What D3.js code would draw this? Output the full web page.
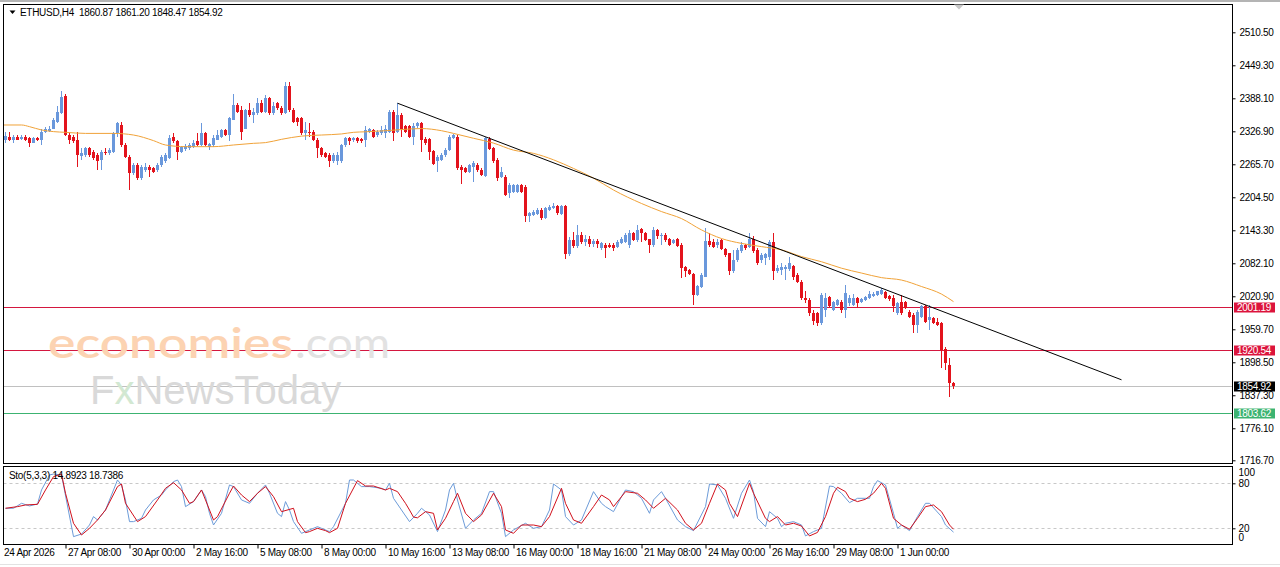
<!DOCTYPE html>
<html><head><meta charset="utf-8">
<script src="https://cdnjs.cloudflare.com/ajax/libs/d3/7.8.5/d3.min.js"></script>
<style>
html,body{margin:0;padding:0;background:#fff;}
svg{display:block;font-family:"Liberation Sans",Arial,sans-serif;}
</style></head><body>
<svg id="c" width="1280" height="567"></svg>
<script>
const symbol = "ETHUSD,H4";
const lastQuote = ["1860.87","1861.20","1848.47","1854.92"];

const opens = [2311,2317,2311,2317,2312,2317,2314,2306,2314,2310,
2326,2328,2332,2345,2360,2392,2320,2317,2311,2282,
2283,2295,2289,2283,2274,2289,2286,2289,2323,2339,
2302,2280,2249,2265,2240,2255,2261,2258,2255,2265,
2271,2277,2317,2308,2289,2294,2295,2298,2308,2302,
2323,2298,2302,2311,2317,2329,2320,2348,2376,2366,
2332,2366,2357,2360,2380,2363,2388,2360,2379,2370,
2360,2410,2366,2351,2351,2323,2326,2326,2311,2295,
2286,2283,2271,2271,2271,2302,2314,2311,2314,2312,
2311,2326,2329,2320,2323,2324,2326,2363,2326,2357,
2336,2336,2317,2336,2342,2312,2312,2291,2271,2274,
2283,2292,2314,2317,2260,2258,2252,2261,2264,2255,
2244,2312,2295,2274,2242,2243,2212,2215,2215,2227,
2224,2169,2172,2174,2181,2166,2181,2184,2188,2174,
2188,2100,2125,2115,2135,2122,2128,2118,2124,
2110,2116,2116,2116,2113,2120,2122,2116,2138,2125,2145,
2138,2127,2116,2144,2132,2135,2127,2119,2127,2116,
2076,2069,2062,2023,2039,2057,2124,2122,2116,2125,
2108,2101,2067,2088,2104,2116,2113,2128,2107,2088,
2091,2093,2122,2068,2070,2071,2071,2077,2060,2048,
2017,2014,1990,1989,1972,1996,2019,1996,2005,2011,1996,2008,
2005,2017,2011,2014,2017,2021,2023,2026,2028,2021,
2017,1989,2011,2011,1992,1986,1968,1983,2002,1977,
1980,1974,1972,1923,1894,1860.87];

const highs = [2326,2326,2320,2320,2320,2320,2317,2317,2317,2331,
2334,2336,2351,2373,2402,2397,2323,2320,2326,2295,
2298,2298,2292,2286,2292,2295,2295,2326,2345,2345,
2305,2283,2268,2268,2265,2268,2265,2261,2268,2283,
2286,2320,2323,2311,2300,2303,2306,2310,2324,2342,
2326,2306,2320,2329,2332,2332,2354,2396,2379,2373,
2368,2379,2370,2388,2385,2394,2391,2382,2382,2373,
2419,2419,2370,2354,2354,2345,2342,2329,2314,2298,
2289,2286,2286,2289,2304,2317,2317,2317,2317,2314,
2336,2333,2332,2329,2336,2339,2366,2366,2379,2360,
2339,2339,2342,2345,2344,2317,2314,2293,2283,2286,
2295,2320,2322,2320,2264,2261,2267,2271,2268,2258,
2317,2317,2298,2277,2261,2246,2231,2230,2230,2230,
2227,2178,2181,2184,2184,2187,2190,2193,2190,2190,
2190,2130,2140,2153,2140,2135,2132,2128,2128,
2122,2119,2119,2119,2125,2130,2138,2144,2140,2153,2147,
2140,2128,2150,2145,2138,2138,2129,2128,2129,2119,
2077,2071,2064,2042,2064,2147,2138,2128,2127,2128,
2110,2102,2107,2110,2122,2118,2138,2132,2110,2101,
2102,2125,2138,2079,2082,2079,2094,2079,2064,2051,
2030,2017,1995,1992,2027,2027,2021,2013,2016,2014,2042,2023,
2026,2020,2017,2022,2030,2028,2031,2036,2031,2023,
2023,2011,2023,2013,1995,1989,1996,2005,2004,2005,
1983,1980,1974,1926,1906,1861.20];

const lows = [2306,2308,2306,2310,2310,2308,2297,2305,2308,2302,
2323,2326,2331,2343,2359,2318,2303,2305,2261,2274,
2280,2280,2274,2255,2255,2283,2283,2286,2317,2298,
2277,2218,2246,2237,2237,2252,2243,2249,2252,2261,
2268,2275,2305,2274,2286,2291,2292,2295,2300,2300,
2300,2292,2298,2310,2314,2318,2308,2347,2360,2311,
2331,2354,2342,2357,2360,2360,2357,2357,2366,2357,
2359,2363,2342,2336,2320,2311,2317,2308,2277,2280,
2277,2261,2268,2264,2268,2298,2302,2307,2305,2305,
2298,2324,2314,2317,2320,2314,2323,2308,2323,2317,
2323,2314,2302,2333,2289,2302,2274,2264,2252,2271,
2280,2290,2312,2255,2230,2250,2249,2233,2252,2244,
2243,2292,2268,2234,2240,2206,2203,2212,2212,2212,
2159,2159,2170,2172,2163,2164,2179,2182,2172,2172,
2090,2095,2110,2110,2118,2115,2112,2112,2110,
2107,2091,2110,2104,2110,2118,2119,2110,2123,2122,2122,
2123,2101,2113,2128,2116,2122,2114,2117,2112,2054,
2057,2060,2005,2022,2036,2056,2113,2110,2110,2107,
2094,2060,2065,2085,2101,2107,2110,2101,2079,2082,
2079,2088,2051,2064,2060,2051,2067,2051,2045,2014,
2008,1985,1968,1966,1968,1983,2000,1993,2002,1989,1980,2002,
2002,1999,2008,2012,2015,2019,2021,2024,2015,2013,
1992,1987,1986,1997,1981,1952,1953,1980,1972,1958,
1969,1966,1887,1884,1835,1848.47];

const closes = [2318,2311,2316,2311,2317,2310,2306,2314,2310,2326,
2331,2332,2348,2363,2391,2320,2311,2308,2283,2286,
2295,2283,2277,2271,2289,2286,2292,2323,2342,2302,
2280,2249,2265,2240,2261,2261,2255,2252,2265,2280,
2283,2314,2308,2289,2297,2300,2302,2306,2302,2323,
2302,2303,2314,2320,2329,2320,2351,2376,2363,2326,
2366,2357,2363,2379,2363,2388,2360,2373,2370,2360,
2410,2366,2345,2345,2323,2329,2323,2311,2295,2283,
2280,2271,2283,2283,2302,2314,2308,2314,2308,2308,
2329,2331,2317,2326,2329,2332,2363,2323,2357,2332,
2326,2317,2336,2342,2311,2305,2289,2266,2280,2283,
2292,2317,2320,2258,2255,2252,2264,2268,2255,2246,
2314,2294,2271,2240,2252,2209,2227,2227,2227,2215,
2169,2175,2178,2181,2166,2184,2187,2188,2175,2188,
2100,2125,2115,2135,2122,2128,2118,2124,2118,
2119,2110,2113,2110,2122,2127,2135,2138,2125,2144,2138,
2125,2116,2144,2132,2135,2125,2116,2125,2114,2073,
2067,2062,2023,2040,2060,2124,2116,2113,2122,2108,
2098,2067,2088,2107,2116,2110,2128,2104,2082,2098,
2099,2122,2067,2073,2076,2076,2082,2057,2048,2017,
2014,1990,1975,1972,2023,2017,2002,2011,2014,1996,2027,2017,
2017,2008,2015,2020,2026,2026,2030,2033,2017,2015,
2002,2009,1989,1999,1983,1968,1992,2002,1974,1983,
1971,1968,1921,1897,1860,1854.92];

const maIdx = [-1,4,6,9,12,15,20,27,32,37,40,45,52,57,62,65,69,74,79,84,87,90,95,100,104,109,112,117,122,127,132,137,142,147,152,159,164,169,174,179,184,189,194,199,204,209,214,219,224,229,234,237];
const maVal = [2338.6,2338.6,2335.5,2329.4,2326.3,2325,2323,2323,2320,2309.6,2301.5,2298.4,2298.4,2301.5,2304.6,2305.9,2312,2318,2320,2322,2325,2326,2328,2330.6,2332,2328,2323,2314,2305,2292,2286,2274,2258,2240,2218,2193,2178,2165,2144,2128,2119,2113,2107,2094.5,2085,2073,2064,2055.5,2051,2039,2025,2011];

const trendIdx = [98, 279];
const trendVal = [2379, 1866];

const levelValues = [2001.19, 1920.54, 1854.92, 1803.62];
const levelColors = ["#d4173f", "#d4173f", "#c0c0c0", "#3cb371"];
const levelBoxColors = ["#dc143c", "#dc143c", "#000000", "#3cb371"];

const priceTicks = [2510.50, 2449.30, 2388.10, 2326.90, 2265.70, 2204.50, 2143.30, 2082.10, 2020.90, 1959.70, 1898.50, 1837.30, 1776.10, 1716.70];

const firstTimeLabel = "24 Apr 2026";
const timeLabels = ["27 Apr 08:00","30 Apr 00:00","2 May 16:00","5 May 08:00","8 May 00:00","10 May 16:00","13 May 08:00","16 May 00:00","18 May 16:00","21 May 08:00","24 May 00:00","26 May 16:00","29 May 08:00","1 Jun 00:00"];
const timeLabelIdx = [15,31,47,63,79,95,111,127,143,159,175,191,207,223];

const stoMainIdx = [0,2,4,6,8,9,11,12,14,17,19,21,22,23,25,28,29,30,31,32,34,35,37,39,40,42,43,44,45,47,49,50,51,52,54,56,57,59,61,63,65,66,68,69,70,71,72,74,76,78,79,81,82,85,86,87,89,91,94,95,96,97,99,101,103,104,106,108,110,111,112,113,115,117,119,121,122,124,125,127,130,132,134,136,137,139,140,142,144,147,149,150,152,154,155,157,159,161,162,164,165,168,170,172,175,176,178,180,182,184,186,187,188,190,191,193,194,195,197,199,200,202,204,206,207,209,211,213,216,217,218,220,222,223,224,226,228,230,231,234,235,237];
const stoMainVal = [46.7,46.7,53.3,49.8,52.4,71.1,91.1,92.4,91.1,8.9,12.4,24.4,35.6,31.1,44.4,84.4,77.8,57.8,28.9,28.9,33.3,44.4,57.8,64.4,71.1,82.2,84.4,75.6,48.9,55.6,71.1,62.2,40,24.4,40,77.8,75.6,57.8,53.3,66.7,77.8,66.7,40,35.6,55.6,44.4,28.9,13.3,17.8,22.2,20,15.6,22.2,53.3,84.4,84.4,75.6,75.6,73.3,71.1,80,60,44.4,28.9,40,46.7,37.8,15.6,44.4,71.1,80,57.8,20,31.1,40,68.9,68.9,40,8.9,17.8,26.7,20,22.2,44.4,79.1,71.1,35.6,24.4,31.1,68.9,53.3,48.9,42.2,62.2,71.1,68.9,60,40,57.8,68.9,60,31.1,22.2,16.9,48.9,79.1,77.8,60,33.3,66.7,84.4,68.9,33.3,22.2,42.2,33.3,22.2,26.7,28.9,24.4,9.8,15.6,20,76.4,75.6,66.7,54.2,60,60,75.6,83.6,77.8,40,20,24.4,16.9,35.6,53.3,53.3,35.6,24.4,14.8923];
const stoSigIdx = [0,3,5,8,10,12,14,15,17,19,21,23,25,28,29,30,33,35,38,40,42,44,46,47,49,50,52,53,56,57,59,61,63,65,67,69,72,73,75,76,78,80,81,83,85,88,90,92,95,96,98,100,101,102,103,105,107,108,110,112,113,115,117,119,122,124,125,127,129,132,134,136,139,140,142,144,147,149,151,152,155,158,160,162,165,168,170,172,174,176,178,180,181,183,186,187,190,191,193,195,197,199,201,203,205,207,208,210,211,213,215,217,219,220,222,224,226,228,230,232,234,236,237];
const stoSigVal = [46.7,48.9,51.1,52,71.1,88.9,92.4,66.7,26.7,11.1,20,31.1,44.4,75.6,79.1,53.3,28.9,35.6,57.8,73.3,80.9,71.1,53.3,55.6,71.1,57.8,31.1,35.6,66.7,76.4,64.4,55.6,66.7,75.6,62.2,42.2,46.7,28.9,14.2,15.6,20,16.9,14.2,20,53.3,83.6,76.4,76.4,71.1,73.3,68.9,53.3,44.4,35,34,42.2,40,17.8,33.3,55.6,66.7,40,28.9,37.8,66.7,48.9,17.8,13.3,24.4,24.4,22.2,35.6,73.3,53.3,31.1,26.7,48.9,64.4,57.8,48.9,68.9,66.7,57.8,46.7,60,44.4,26.7,17.8,26.7,53.3,79.1,71.1,53.3,35.6,80,66.7,33.3,28.9,35.6,24.4,26.7,23,9.8,14.5,35.6,66.7,74.7,68.9,60,55.6,58.7,66.7,80,73.3,33.3,24.4,18.7,33.3,48.9,51.1,42.2,24.4,18.7386];
const stoTicks = [100, 80, 20, 0];
const stoLabel = "Sto(5,3,3) 14.8923 18.7386";

// ---------- layout ----------
const L = 3.5, R = 1232.5, MT = 4.5, MB = 463.5, ST = 466.5, SB = 544.5;
const BULL = "#6a98dc", BEAR = "#e3131c";
const FONT = '"Liberation Sans", Arial, sans-serif';

const svg = d3.select("#c");
const x = d3.scaleLinear().domain([0, opens.length - 1]).range([5.5, 5.5 + 4 * (opens.length - 1)]);
const y = d3.scaleLinear().domain([1711.7, 2563]).range([463, 4]);
const ys = d3.scaleLinear().domain([0, 100]).range([543.3, 468.3]);

svg.append("rect").attr("width", 1280).attr("height", 567).attr("fill", "#fff");
svg.append("rect").attr("x", 0).attr("y", 0).attr("width", 1280).attr("height", 2).attr("fill", "#b4b4b4");
svg.append("line").attr("x1", 0).attr("x2", 1280).attr("y1", 564.5).attr("y2", 564.5).attr("stroke", "#e2e2e2");

const defs = svg.append("defs");
defs.append("clipPath").attr("id", "cm").append("rect").attr("x", L).attr("y", MT).attr("width", R - L).attr("height", MB - MT);
defs.append("clipPath").attr("id", "cs").append("rect").attr("x", L).attr("y", ST).attr("width", R - L).attr("height", SB - ST);

const main = svg.append("g").attr("clip-path", "url(#cm)");

// level lines
const crisp = v => Math.round(v) + 0.5;
main.selectAll("line.lvl").data(levelValues).join("line")
  .attr("class", "lvl")
  .attr("x1", L).attr("x2", R)
  .attr("y1", d => crisp(y(d))).attr("y2", d => crisp(y(d)))
  .attr("stroke", (d, i) => levelColors[i]).attr("stroke-width", 1);

// candles
const cg = main.append("g").attr("shape-rendering", "crispEdges");
const candles = d3.range(opens.length).map(i => ({i, o: opens[i], h: highs[i], l: lows[i], c: closes[i]}));
const col = d => d.c >= d.o ? BULL : BEAR;
cg.selectAll("line.w").data(candles).join("line")
  .attr("class", "w")
  .attr("x1", d => x(d.i)).attr("x2", d => x(d.i))
  .attr("y1", d => y(d.h)).attr("y2", d => y(d.l))
  .attr("stroke", col).attr("stroke-width", 1);
cg.selectAll("rect.b").data(candles).join("rect")
  .attr("class", "b")
  .attr("x", d => x(d.i) - 1.5).attr("width", 3)
  .attr("y", d => Math.min(y(d.o), y(d.c)))
  .attr("height", d => Math.max(1, Math.abs(y(d.o) - y(d.c))))
  .attr("fill", col);

// moving average
const maData = maIdx.map((d, i) => [d, maVal[i]]);
main.append("path").datum(maData)
  .attr("d", d3.line().x(d => x(d[0])).y(d => y(d[1])).curve(d3.curveMonotoneX))
  .attr("fill", "none").attr("stroke", "#f0a238").attr("stroke-width", 1);

// trend line
const tData = trendIdx.map((d, i) => [d, trendVal[i]]);
main.append("path").datum(tData)
  .attr("d", d3.line().x(d => x(d[0])).y(d => y(d[1])))
  .attr("fill", "none").attr("stroke", "#000").attr("stroke-width", 1);

// watermark (one text element per line)
const wm1 = svg.append("text").attr("y", 358).attr("font-family", 'Lato, "Open Sans", sans-serif').attr("font-size", 42);
wm1.append("tspan").attr("x", 48).attr("font-weight", 600).attr("fill", "#fcd3b2")
  .attr("textLength", 245).attr("lengthAdjust", "spacingAndGlyphs").text("economies");
wm1.append("tspan").attr("x", 295).attr("fill", "#e2e2e2")
  .attr("textLength", 95).attr("lengthAdjust", "spacingAndGlyphs").text(".com");
const wm2 = svg.append("text").attr("x", 90).attr("y", 404).attr("font-family", FONT).attr("font-size", 40);
wm2.append("tspan").attr("fill", "#d9d9d9").text("F");
wm2.append("tspan").attr("fill", "#d2e8d2").text("x");
wm2.append("tspan").attr("fill", "#d9d9d9").text("NewsToday");

// stochastic
const sg = svg.append("g").attr("clip-path", "url(#cs)");
sg.selectAll("line.sl").data([80, 20]).join("line")
  .attr("class", "sl").attr("x1", L).attr("x2", R)
  .attr("y1", d => crisp(ys(d))).attr("y2", d => crisp(ys(d)))
  .attr("stroke", "#c8c8c8").attr("stroke-dasharray", "3,3");
const sline = d3.line().x(d => x(d[0])).y(d => ys(d[1]));
sg.append("path").datum(stoMainIdx.map((d, i) => [d, stoMainVal[i]]))
  .attr("d", sline).attr("fill", "none").attr("stroke", "#6c9bd8").attr("stroke-width", 1);
sg.append("path").datum(stoSigIdx.map((d, i) => [d, stoSigVal[i]]))
  .attr("d", sline).attr("fill", "none").attr("stroke", "#d0101c").attr("stroke-width", 1);

// frames
svg.append("rect").attr("x", L).attr("y", MT).attr("width", R - L).attr("height", MB - MT)
  .attr("fill", "none").attr("stroke", "#000");
svg.append("rect").attr("x", L).attr("y", ST).attr("width", R - L).attr("height", SB - ST)
  .attr("fill", "none").attr("stroke", "#000");

// price axis
const ya = svg.append("g").attr("transform", `translate(${R},0)`)
  .call(d3.axisRight(y).tickValues(priceTicks).tickSize(3).tickPadding(4).tickFormat(d3.format(".2f")));
ya.select(".domain").remove();
ya.selectAll("text").attr("font-family", FONT).attr("font-size", 10).attr("letter-spacing", "-0.3px").attr("fill", "#000");

// level labels
const lb = svg.append("g");
levelValues.forEach((v, i) => {
  const yy = Math.round(y(v));
  lb.append("rect").attr("x", 1234).attr("y", yy - 4.5).attr("width", 41).attr("height", 10).attr("fill", levelBoxColors[i]);
  lb.append("text").attr("x", 1237).attr("y", yy + 4).attr("font-family", FONT).attr("font-size", 10)
    .attr("letter-spacing", "-0.3px").attr("fill", "#fff").text(d3.format(".2f")(v));
});

// stochastic axis
const sa = svg.append("g").attr("transform", `translate(${R},0)`)
  .call(d3.axisRight(ys).tickValues(stoTicks).tickSize(3).tickPadding(3));
sa.select(".domain").remove();
sa.selectAll(".tick line").attr("stroke", d => (d === 80 || d === 20) ? "#000" : "none");
sa.selectAll("text").attr("font-family", FONT).attr("font-size", 10).attr("fill", "#000")
  .attr("dy", d => d === 100 ? "0.72em" : d === 0 ? "-0.25em" : "0.35em");

// time axis
const xa = svg.append("g").attr("transform", `translate(0,${SB})`)
  .call(d3.axisBottom(x).tickValues(timeLabelIdx).tickSize(4).tickFormat((d, i) => timeLabels[i]));
xa.select(".domain").remove();
xa.selectAll("text").attr("font-family", FONT).attr("font-size", 10).attr("letter-spacing", "-0.3px")
  .attr("fill", "#000").attr("text-anchor", "start").attr("x", 2).attr("y", 4).attr("dy", "0.75em");
svg.append("text").attr("x", 4).attr("y", 556).attr("font-family", FONT).attr("font-size", 10)
  .attr("letter-spacing", "-0.3px").text(firstTimeLabel);

// header
svg.append("path").attr("d", "M9.5,10.5 L15.5,10.5 L12.5,14 Z").attr("fill", "#000");
svg.append("text").attr("x", 20).attr("y", 16).attr("font-family", FONT).attr("font-size", 10)
  .attr("letter-spacing", "-0.3px").attr("xml:space", "preserve")
  .text(symbol + "  " + lastQuote.join(" "));
svg.append("text").attr("x", 9).attr("y", 479).attr("font-family", FONT).attr("font-size", 10)
  .attr("letter-spacing", "-0.3px").text(stoLabel);

// chart shift marker
svg.append("path").attr("d", "M954,4.5 L964,4.5 L959,9.5 Z").attr("fill", "#c8c8c8");
</script>
</body></html>
